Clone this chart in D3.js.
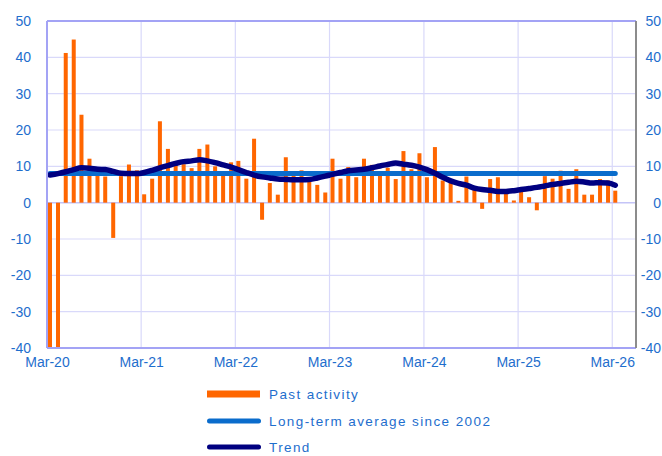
<!DOCTYPE html>
<html>
<head>
<meta charset="utf-8">
<script src="https://cdn.jsdelivr.net/npm/d3@7"></script>
<style>
  html, body { margin: 0; padding: 0; background: #fff; }
  svg { display: block; }
  text { font-family: "Liberation Sans", Arial, sans-serif; }
</style>
</head>
<body>
<svg id="chart" width="662" height="456"></svg>
<script>
// Monthly observations, March 2020 to March 2026
const startMonth = "2020-03";
const pastActivity = [
  -40, -40, 41.2, 44.9, 24.2, 12.1, 8.2, 7.2, -9.7, 7.3, 10.5, 8.9,
  2.3, 6.6, 22.4, 14.8, 10.3, 10.6, 9.5, 14.8, 16.0, 10.0, 8.2, 11.1,
  11.5, 6.6, 17.6, -4.7, 5.4, 2.2, 12.5, 7.5, 8.9, 6.5, 4.9, 2.8,
  12.1, 6.6, 9.8, 7.0, 12.1, 10.4, 8.3, 9.6, 6.5, 14.2, 9.2, 13.6,
  7.0, 15.3, 6.1, 5.6, 0.5, 7.2, 3.8, -1.7, 6.5, 7.0, 2.4, 0.6,
  3.0, 1.5, -2.1, 7.3, 6.6, 8.8, 3.8, 9.2, 2.2, 2.2, 6.5, 6.1,
  3.3
];
const trend = [
  7.6, 8.0, 8.5, 9.1, 9.6, 9.5, 9.2, 9.1, 8.6, 8.1, 8.0, 8.0,
  8.3, 8.9, 9.6, 10.2, 10.8, 11.3, 11.5, 11.8, 11.5, 11.0, 10.4, 9.8,
  9.1, 8.3, 7.6, 7.1, 6.8, 6.5, 6.4, 6.3, 6.3, 6.4, 6.8, 7.3,
  7.8, 8.3, 8.8, 9.0, 9.2, 9.6, 10.1, 10.5, 10.9, 10.6, 10.3, 9.8,
  9.1, 8.1, 7.0, 6.0, 5.3, 4.8, 4.0, 3.6, 3.4, 3.1, 3.1, 3.3,
  3.6, 3.9, 4.2, 4.6, 5.0, 5.3, 5.6, 5.9, 5.7, 5.4, 5.5, 5.4,
  4.8
];
const longTermAverage = 8.0;
const yTicks = [-40, -30, -20, -10, 0, 10, 20, 30, 40, 50];
const xTickLabels = ["Mar-20", "Mar-21", "Mar-22", "Mar-23", "Mar-24", "Mar-25", "Mar-26"];
const legendLabels = ["Past activity", "Long-term average since 2002", "Trend"];

const colors = {
  bar: "#ff6600",
  avg: "#0a6ccc",
  trend: "#000080",
  text: "#1e6ecd",
  grid: "#d9d9fa",
  frame: "#a3a3f5",
  rightFrame: "#8c8c8c"
};

const parseMonth = d3.timeParse("%Y-%m");
const t0 = parseMonth(startMonth);
const months = pastActivity.map((_, i) => d3.timeMonth.offset(t0, i));
const tickDates = xTickLabels.map((_, i) => d3.timeYear.offset(t0, i));

const plot = { left: 47, right: 636, top: 21, bottom: 348 };

const x = d3.scaleTime()
  .domain([t0, d3.timeMonth.offset(t0, 75)])
  .range([plot.left, plot.right]);
const y = d3.scaleLinear()
  .domain([-40, 50])
  .range([plot.bottom, plot.top]);

const svg = d3.select("#chart");

// gridlines
const grid = svg.append("g");
grid.selectAll("line.h")
  .data(yTicks.filter(v => v !== -40 && v !== 50 && v !== 0))
  .join("line")
  .attr("x1", plot.left).attr("x2", plot.right)
  .attr("y1", d => y(d)).attr("y2", d => y(d))
  .attr("stroke", colors.grid).attr("stroke-width", 1.2);
grid.selectAll("line.v")
  .data(tickDates.slice(1))
  .join("line")
  .attr("x1", d => x(d)).attr("x2", d => x(d))
  .attr("y1", plot.top).attr("y2", plot.bottom)
  .attr("stroke", colors.grid).attr("stroke-width", 1.2);

// zero line
svg.append("line")
  .attr("x1", plot.left).attr("x2", plot.right)
  .attr("y1", y(0)).attr("y2", y(0))
  .attr("stroke", "#c4c4f7").attr("stroke-width", 1.5);

// bars
const barOffset = 1, barWidth = 4;
svg.append("g")
  .selectAll("rect")
  .data(pastActivity)
  .join("rect")
  .attr("x", (d, i) => x(months[i]) + barOffset)
  .attr("width", barWidth)
  .attr("y", d => y(Math.max(0, d)))
  .attr("height", d => Math.abs(y(d) - y(0)))
  .attr("fill", colors.bar);

// lines
const lineGen = d3.line()
  .x((d, i) => x(months[i]) + barOffset + barWidth / 2)
  .y(d => y(d))
  .curve(d3.curveMonotoneX);

svg.append("path")
  .datum(months.map(() => longTermAverage))
  .attr("d", lineGen)
  .attr("fill", "none")
  .attr("stroke", colors.avg)
  .attr("stroke-width", 5)
  .attr("stroke-linecap", "round");

svg.append("path")
  .datum(trend)
  .attr("d", lineGen)
  .attr("fill", "none")
  .attr("stroke", colors.trend)
  .attr("stroke-width", 5.5)
  .attr("stroke-linecap", "round")
  .attr("stroke-linejoin", "round");

// frame
svg.append("line").attr("x1", plot.left).attr("x2", plot.right)
  .attr("y1", plot.top).attr("y2", plot.top)
  .attr("stroke", colors.frame).attr("stroke-width", 2);
svg.append("line").attr("x1", plot.left).attr("x2", plot.right)
  .attr("y1", plot.bottom).attr("y2", plot.bottom)
  .attr("stroke", colors.frame).attr("stroke-width", 2);
svg.append("line").attr("x1", plot.left).attr("x2", plot.left)
  .attr("y1", plot.top).attr("y2", plot.bottom)
  .attr("stroke", colors.frame).attr("stroke-width", 2);
svg.append("line").attr("x1", plot.right).attr("x2", plot.right)
  .attr("y1", plot.top).attr("y2", plot.bottom)
  .attr("stroke", colors.rightFrame).attr("stroke-width", 2);

// axes (plain hyphen for negative numbers)
const numFormat = d => String(d);

function styleAxis(g) {
  g.select(".domain").remove();
  g.selectAll(".tick line").remove();
  g.selectAll("text")
    .attr("fill", colors.text)
    .style("font-size", "14px")
    .style("font-family", '"Liberation Sans", Arial, sans-serif');
}

svg.append("g")
  .attr("transform", `translate(${plot.left},0)`)
  .call(d3.axisLeft(y).tickValues(yTicks).tickFormat(numFormat).tickSize(0).tickPadding(16))
  .call(styleAxis);

svg.append("g")
  .attr("transform", `translate(${plot.right},0)`)
  .call(d3.axisRight(y).tickValues(yTicks).tickFormat(numFormat).tickSize(0).tickPadding(25))
  .call(styleAxis)
  .selectAll("text").attr("text-anchor", "end");

svg.append("g")
  .attr("transform", `translate(0,${plot.bottom})`)
  .call(d3.axisBottom(x).tickValues(tickDates)
    .tickFormat((d, i) => xTickLabels[i]).tickSize(0).tickPadding(9))
  .call(styleAxis);

// legend
const legend = svg.append("g");
const legendY = [394, 421, 447];
legend.append("rect")
  .attr("x", 207).attr("y", legendY[0] - 3.5)
  .attr("width", 53).attr("height", 7)
  .attr("fill", colors.bar);
legend.append("line")
  .attr("x1", 209.5).attr("x2", 258.5)
  .attr("y1", legendY[1]).attr("y2", legendY[1])
  .attr("stroke", colors.avg).attr("stroke-width", 5)
  .attr("stroke-linecap", "round");
legend.append("line")
  .attr("x1", 209.5).attr("x2", 258.5)
  .attr("y1", legendY[2]).attr("y2", legendY[2])
  .attr("stroke", colors.trend).attr("stroke-width", 5)
  .attr("stroke-linecap", "round");
legend.selectAll("text")
  .data(legendLabels)
  .join("text")
  .attr("x", 269)
  .attr("y", (d, i) => legendY[i])
  .attr("dy", "0.35em")
  .attr("fill", colors.text)
  .style("font-size", "13.5px")
  .style("letter-spacing", "1.4px")
  .text(d => d);
</script>
</body>
</html>
